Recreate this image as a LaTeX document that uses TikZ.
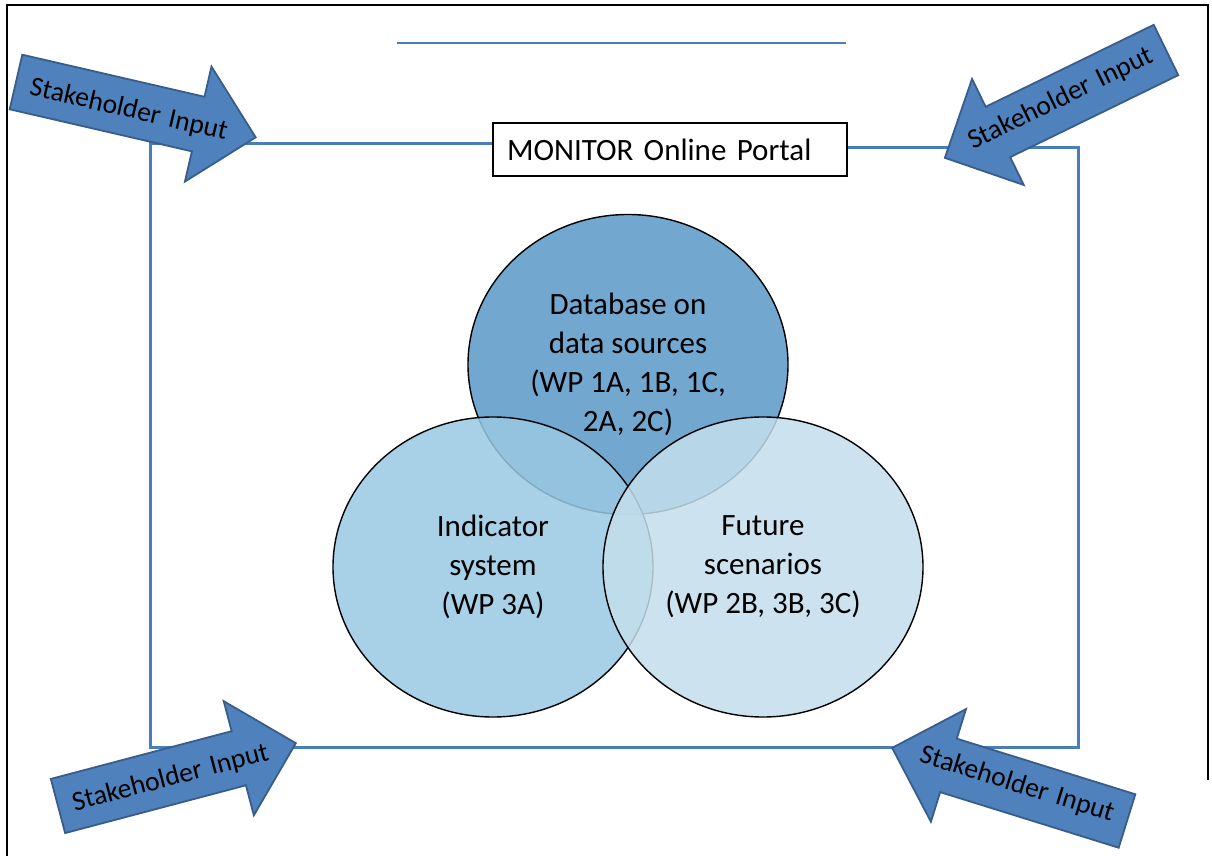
\documentclass[tikz,border=0pt]{standalone}
\usepackage{fontspec}
\setmainfont{Carlito}
\usetikzlibrary{shapes.geometric}
\definecolor{arrowblue}{RGB}{79,129,189}
\definecolor{arrowedge}{RGB}{56,93,138}
\definecolor{frameblue}{RGB}{74,126,187}
\definecolor{topc}{RGB}{114,168,208}
\definecolor{leftc}{RGB}{153,200,226}
\definecolor{rightc}{RGB}{196,223,237}
\newcommand\mystakearrow[4]{%
  \begin{scope}[shift={#2}, rotate=#3]
    \draw[inarrow] (0,28) -- (187,28) -- (187,59) -- (246,0) -- (187,-59) -- (187,-28) -- (0,-28) -- cycle;
    \node[arrowtext, rotate=#4] (#1) at (116,2) {Stakeholder\hspace{0.32em}Input};
  \end{scope}}
\begin{document}
\begin{tikzpicture}[x=0.5pt,y=-0.5pt,
  frameline/.style={draw=frameblue, line width=1.5pt},
  thinline/.style={draw=frameblue, line width=1pt},
  inarrow/.style={fill=arrowblue, draw=arrowedge, line width=0.9pt, line join=miter},
  arrowtext/.style={font=\fontsize{13.8}{16}\selectfont, inner sep=0pt, text=black},
  venn/.style={ellipse, draw=black, line width=0.7pt, minimum width=160pt, minimum height=150pt,
    inner sep=0pt, align=center, font=\fontsize{15.5}{19.5}\selectfont},
  portalbox/.style={draw=black, line width=0.8pt, fill=white, minimum width=177pt, minimum height=26.5pt,
    text width=163pt, align=left, inner xsep=7pt, inner ysep=0pt, font=\fontsize{15.5}{19}\selectfont}]
\useasboundingbox (0,0) rectangle (1212,856);
\fill[white] (0,0) rectangle (1212,856);
% outer black border
\draw[black, line width=0.8pt] (7,856) -- (7,5) -- (1208,5) -- (1208,780);
% thin top line
\coordinate (hl1) at (397,43);
\coordinate (hl2) at (846,43);
\draw[thinline] (hl1) -- (hl2);
% portal box
\node[portalbox] (portal) at (670,149.5) {MONITOR Online Portal};
% frame
\coordinate (tl) at (150,144);
\coordinate (bl) at (150,747);
\coordinate (br) at (1078,747);
\coordinate (tr) at (1078,148);
\draw[frameline] (tl -| portal.west) -- (tl) -- (bl) -- (br) -- (tr) -- (tr -| portal.east);
% venn circles
\node[venn, fill=topc] (db) at (628,364.5) {Database on\\data sources\\(WP 1A, 1B, 1C,\\2A, 2C)};
\node[venn, fill=leftc, fill opacity=0.85, text opacity=1] (ind) at (493,567) {Indicator\\system\\(WP 3A)};
\node[venn, fill=rightc, fill opacity=0.85, text opacity=1] (fut) at (763,567) {Future\\scenarios\\(WP 2B, 3B, 3C)};
% stakeholder arrows
\mystakearrow{sh1}{(16,82)}{-13}{-13}
\mystakearrow{sh2}{(1166,50)}{206}{26}
\mystakearrow{sh3}{(58,806)}{14.8}{14.8}
\mystakearrow{sh4}{(1127,821)}{162.7}{-17.3}
\end{tikzpicture}
\end{document}
